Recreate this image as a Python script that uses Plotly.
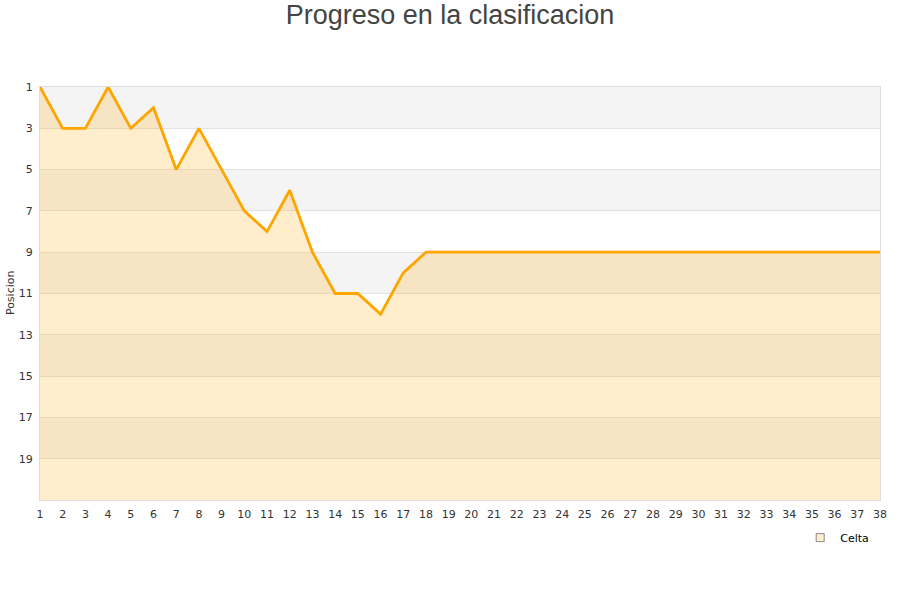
import plotly.graph_objects as go

jornadas = list(range(1, 39))
posiciones = [1, 3, 3, 1, 3, 2, 5, 3, 5, 7, 8, 6, 9, 11, 11, 12, 10, 9] + [9] * 20
y_ticks = [1, 3, 5, 7, 9, 11, 13, 15, 17, 19]
bandas = [(1, 3), (5, 7), (9, 11), (13, 15), (17, 19)]
fondo = 21

fig = go.Figure()
fig.add_trace(go.Scatter(x=jornadas, y=[fondo] * len(jornadas), mode="lines",
                         line=dict(width=0, color="rgba(0,0,0,0)"), showlegend=False,
                         hoverinfo="skip"))
fig.add_trace(go.Scatter(x=jornadas, y=posiciones, mode="lines", fill="tonexty",
                         fillcolor="rgba(255,165,0,0.2)",
                         line=dict(color="#FFA500", width=2.8), showlegend=False, name="Celta"))
fig.add_trace(go.Scatter(x=[None], y=[None], mode="markers", name="Celta",
                         marker=dict(symbol="square", size=8, color="#FFEDCC",
                                     line=dict(color="#888888", width=1))))

shapes = []
for a, b in bandas:
    shapes.append(dict(type="rect", xref="paper", yref="y", x0=0, x1=1, y0=a, y1=b,
                       fillcolor="#F4F4F4", line=dict(width=0), layer="below"))

fig.update_layout(
    width=900, height=600,
    margin=dict(l=40, r=20, t=87, b=100, autoexpand=False),
    paper_bgcolor="white", plot_bgcolor="white",
    title=dict(text="Progreso en la clasificacion", xref="container", x=0.5, xanchor="center",
               yref="container", y=0.975, yanchor="middle",
               font=dict(family="Liberation Sans, Arial, sans-serif", size=27, color="#444444")),
    shapes=shapes,
    annotations=[dict(text="Posicion", xref="paper", yref="paper", x=-0.0357, y=0.501,
                      xanchor="center", yanchor="middle", textangle=-90, showarrow=False,
                      font=dict(size=11, color="#333333"))],
    font=dict(family="DejaVu Sans, Verdana, sans-serif", size=11, color="#333333"),
    xaxis=dict(range=[1, 38], tickmode="array", tickvals=jornadas, ticktext=[str(j) for j in jornadas],
               showgrid=False, zeroline=False, showline=True, linecolor="#DDDDDD", mirror=True,
               ticks="outside", ticklen=4, tickcolor="rgba(0,0,0,0)",
               tickfont=dict(size=11, color="#333333")),
    yaxis=dict(range=[21, 1], tickmode="array", tickvals=y_ticks, ticktext=[str(v) for v in y_ticks],
               showgrid=True, gridcolor="#E3E3E3", gridwidth=1, zeroline=False,
               showline=True, linecolor="#DDDDDD", mirror=True,
               ticks="outside", ticklen=4, tickcolor="rgba(0,0,0,0)",
               tickfont=dict(size=11, color="#333333")),
    legend=dict(x=0.905, y=-0.056, xanchor="left", yanchor="top", bgcolor="rgba(0,0,0,0)",
                font=dict(size=11, color="#000000"), itemwidth=30),
)

fig.write_html("out.html", config={"displayModeBar": False},
               post_script="document.body.style.margin='0';")
